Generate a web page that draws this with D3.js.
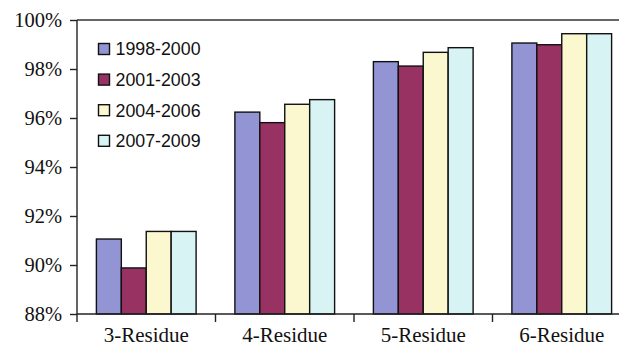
<!DOCTYPE html>
<html><head><meta charset="utf-8">
<script src="https://cdn.jsdelivr.net/npm/d3@7/dist/d3.min.js"></script>
<style>html,body{margin:0;padding:0;background:#fff;}svg{display:block;}</style>
</head><body>
<script>
const categories = ["3-Residue", "4-Residue", "5-Residue", "6-Residue"];
const seriesNames = ["1998-2000", "2001-2003", "2004-2006", "2007-2009"];
const s1998 = [91.06, 96.24, 98.30, 99.06];
const s2001 = [89.88, 95.81, 98.12, 98.99];
const s2004 = [91.37, 96.56, 98.68, 99.44];
const s2007 = [91.37, 96.75, 98.87, 99.44];
const yTicks = [88, 90, 92, 94, 96, 98, 100];
const colors = ["#9294d3", "#983263", "#fbf8cf", "#d8f3f3"];
const seriesValues = [s1998, s2001, s2004, s2007];

const W = 619, H = 347;
const svg = d3.select("body").append("svg").attr("width", W).attr("height", H);
const mLeft = 77, mRight = 631, mTop = 20, mBottom = 314;

const x = d3.scaleBand().domain(categories).range([mLeft, mRight]).paddingInner(0.28).paddingOuter(0.14);
const x1 = d3.scaleBand().domain(seriesNames).range([0, x.bandwidth()]);
const y = d3.scaleLinear().domain([88, 100]).range([mBottom, mTop]);

// top border
svg.append("line").attr("x1", mLeft).attr("x2", W).attr("y1", mTop).attr("y2", mTop)
  .attr("stroke", "#333").attr("stroke-width", 1.4);

// bars
categories.forEach((c, ci) => {
  seriesNames.forEach((s, si) => {
    const v = seriesValues[si][ci];
    svg.append("rect")
      .attr("x", x(c) + x1(s))
      .attr("y", y(v))
      .attr("width", x1.bandwidth())
      .attr("height", y(88) - y(v))
      .attr("fill", colors[si])
      .attr("stroke", "#111").attr("stroke-width", 1.4);
  });
});

// y axis
const yAxis = d3.axisLeft(y).tickValues(yTicks).tickSize(7).tickFormat(d => d + "%");
const gy = svg.append("g").attr("transform", `translate(${mLeft},0)`).call(yAxis);
gy.select(".domain").remove();
gy.append("line").attr("x1", 0).attr("x2", 0).attr("y1", mTop).attr("y2", mBottom + 8)
  .attr("stroke", "#222").attr("stroke-width", 1.4);
gy.selectAll(".tick line").attr("stroke", "#222").attr("stroke-width", 1.4);
gy.selectAll(".tick text").attr("x", -15).attr("fill", "#111")
  .style("font-family", "'Liberation Serif', 'Times New Roman', serif").style("font-size", "20.5px");

// x axis
svg.append("line").attr("x1", mLeft).attr("x2", W).attr("y1", mBottom).attr("y2", mBottom)
  .attr("stroke", "#222").attr("stroke-width", 1.4);
const boundaries = categories.map(c => x(c) + x.bandwidth() + x.step() * x.paddingInner() / 2);
svg.selectAll(".xt").data(boundaries).enter().append("line")
  .attr("x1", d => d).attr("x2", d => d).attr("y1", mBottom).attr("y2", mBottom + 8)
  .attr("stroke", "#222").attr("stroke-width", 1.4);
svg.selectAll(".xl").data(categories).enter().append("text")
  .attr("x", d => x(d) + x.bandwidth() / 2)
  .attr("y", 342)
  .attr("text-anchor", "middle").attr("fill", "#111")
  .style("font-family", "'Liberation Serif', 'Times New Roman', serif").style("font-size", "21px")
  .text(d => d);

// legend
const lg = svg.append("g");
seriesNames.forEach((s, i) => {
  const cy = 49 + i * 30.6;
  lg.append("rect").attr("x", 98.5).attr("y", cy - 5.5).attr("width", 11).attr("height", 11)
    .attr("fill", colors[i]).attr("stroke", "#111").attr("stroke-width", 1.4);
  lg.append("text").attr("x", 115.5).attr("y", cy).attr("dy", "0.36em").attr("fill", "#111")
    .style("font-family", "'Liberation Sans', Arial, sans-serif").style("font-size", "17.8px")
    .text(s);
});
</script>
</body></html>
